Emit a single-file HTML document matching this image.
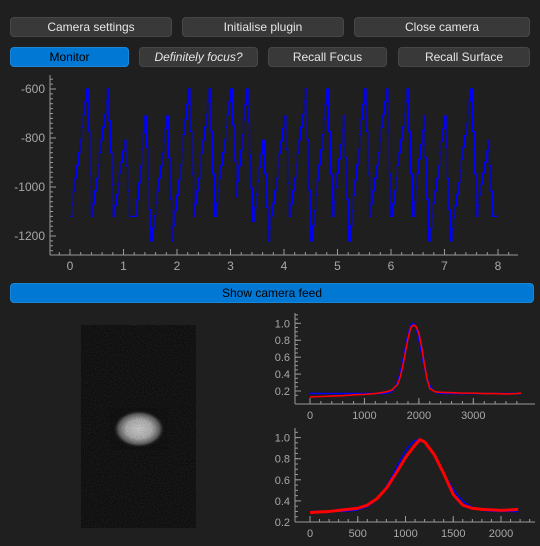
<!DOCTYPE html>
<html><head><meta charset="utf-8">
<style>
html,body{margin:0;padding:0;background:#1f1f1f;width:540px;height:546px;overflow:hidden;font-family:"Liberation Sans",sans-serif;}
.btn{position:absolute;box-sizing:border-box;background:#393939;border:1px solid #474747;border-radius:4px;color:#e6e6e6;font-size:12px;text-align:center;line-height:18px;height:20px;}
.blue{background:#0078d4;border-color:#1a86d8;color:#000;}
svg{position:absolute;left:0;top:0;}
</style></head><body>
<div class="btn" style="left:10px;top:17px;width:162px">Camera settings</div>
<div class="btn" style="left:182px;top:17px;width:162px">Initialise plugin</div>
<div class="btn" style="left:354px;top:17px;width:176px">Close camera</div>
<div class="btn blue" style="left:10px;top:47px;width:119px">Monitor</div>
<div class="btn" style="left:139px;top:47px;width:119px;font-style:italic">Definitely focus?</div>
<div class="btn" style="left:268px;top:47px;width:119px">Recall Focus</div>
<div class="btn" style="left:398px;top:47px;width:132px">Recall Surface</div>
<div class="btn blue" style="left:10px;top:283px;width:524px;height:20px">Show camera feed</div>

<svg width="540" height="546" id="svg">
<defs>
<filter id="noise" x="0" y="0" width="100%" height="100%">
<feTurbulence type="fractalNoise" baseFrequency="0.9" numOctaves="2" seed="3"/>
<feColorMatrix type="matrix" values="0 0 0 0 1  0 0 0 0 1  0 0 0 0 1  0 0 0 0.35 -0.1"/>
</filter>
<filter id="noise2" x="0" y="0" width="100%" height="100%">
<feTurbulence type="fractalNoise" baseFrequency="1.2" numOctaves="1" seed="7"/>
<feColorMatrix type="matrix" values="0 0 0 0 0  0 0 0 0 0  0 0 0 0 0  0 0 0 0.9 -0.3"/>
</filter>
<radialGradient id="blob">
<stop offset="0" stop-color="#d0d0d0"/>
<stop offset="0.5" stop-color="#b0b0b0"/>
<stop offset="0.8" stop-color="#5a5a5a"/>
<stop offset="1" stop-color="#0a0a0a" stop-opacity="0"/>
</radialGradient>
</defs>
<g>
<rect x="81" y="325" width="115" height="203" fill="#0b0b0b"/>
<ellipse cx="139" cy="429" rx="26" ry="19" fill="url(#blob)"/>
<rect x="81" y="325" width="115" height="203" filter="url(#noise)" opacity="0.45"/>
<rect x="110" y="408" width="58" height="42" filter="url(#noise2)" opacity="0.5"/>
</g>
</svg>
<script>
const mainX=[0,0.31,0.40,0.70,0.81,1.01,1.11,1.22,1.40,1.51,1.81,1.90,2.21,2.31,2.60,2.70,3.00,3.10,3.30,3.41,3.60,3.70,4.00,4.10,4.40,4.50,4.80,4.90,5.11,5.21,5.50,5.60,5.91,6.00,6.30,6.40,6.61,6.70,7.00,7.11,7.49,7.59,7.81,7.90,8.00];
const mainY=[-1120,-600,-1120,-600,-1120,-810,-1120,-1120,-710,-1220,-710,-1220,-600,-1120,-600,-1120,-600,-1040,-600,-1140,-810,-1220,-710,-1120,-600,-1220,-600,-1120,-710,-1220,-600,-1120,-600,-1120,-600,-1120,-710,-1220,-710,-1220,-600,-1120,-810,-1120,-1120];
const mainXTicks=[0,1,2,3,4,5,6,7,8];
const mainYTicks=[-600,-800,-1000,-1200];
const topX=[0,200,400,600,800,1000,1200,1400,1500,1600,1650,1700,1750,1800,1850,1900,1950,2000,2050,2100,2150,2200,2300,2400,2600,2800,3000,3200,3400,3600,3800,3880];
const topRed=[0.13,0.135,0.14,0.145,0.155,0.16,0.17,0.19,0.21,0.27,0.35,0.48,0.65,0.82,0.95,0.98,0.96,0.88,0.72,0.52,0.34,0.23,0.19,0.185,0.18,0.175,0.175,0.17,0.17,0.165,0.17,0.175];
const topFit=[0.17,0.83,1890,150];
const topXTicks=[0,1000,2000,3000];
const botX=[0,100,200,300,400,500,600,700,800,900,1000,1100,1150,1200,1300,1400,1500,1600,1700,1800,1900,2000,2100,2180];
const botRed=[0.29,0.295,0.30,0.31,0.32,0.33,0.36,0.42,0.52,0.66,0.81,0.93,0.98,0.96,0.84,0.66,0.46,0.36,0.33,0.32,0.315,0.31,0.315,0.32];
const botFit=[0.30,0.68,1140,235];
const botXTicks=[0,500,1000,1500,2000];
const smallYTicks=[0.2,0.4,0.6,0.8,1.0];

const NS="http://www.w3.org/2000/svg";
const svg=document.getElementById('svg');
function mk(tag,attrs,parent){const e=document.createElementNS(NS,tag);for(const k in attrs)e.setAttribute(k,attrs[k]);(parent||svg).appendChild(e);return e;}
const AX="#9a9a9a",TX="#a8a8a8";

function axes(g,o){
  mk('line',{x1:o.left,y1:o.bottom,x2:o.right,y2:o.bottom,stroke:AX},g);
  mk('line',{x1:o.left,y1:o.top,x2:o.left,y2:o.bottom,stroke:AX},g);
  for(let v=o.mxs;v<=o.mxe+1e-9;v+=o.mx){const p=o.sx(v);if(p<o.left||p>o.right)continue;mk('line',{x1:p,y1:o.bottom,x2:p,y2:o.bottom-3,stroke:AX},g);}
  for(let v=o.mys;v<=o.mye+1e-9;v+=o.my){const p=o.sy(v);if(p<o.top||p>o.bottom)continue;mk('line',{x1:o.left,y1:p,x2:o.left+3,y2:p,stroke:AX},g);}
  o.xt.forEach(v=>{const p=o.sx(v);mk('line',{x1:p,y1:o.bottom,x2:p,y2:o.bottom-6,stroke:AX},g);
    const t=mk('text',{x:p,y:o.bottom+15,fill:TX,'font-size':o.fs,'text-anchor':'middle'},g);t.textContent=o.fx(v);
    
    });
  o.yt.forEach(v=>{const p=o.sy(v);mk('line',{x1:o.left,y1:p,x2:o.left+6,y2:p,stroke:AX},g);
    const t=mk('text',{x:o.left-5,y:p+4,fill:TX,'font-size':o.fs,'text-anchor':'end'},g);t.textContent=o.fy(v);
    
    });
}
// main chart
const g1=mk('g',{});


const sx1=v=>70+v*53.5, sy1=v=>89+(-600-v)*0.245;
axes(g1,{left:50,right:518,top:75,bottom:255,sx:sx1,sy:sy1,xt:mainXTicks,yt:mainYTicks,mxs:-0.2,mxe:8.6,mx:0.2,mys:-1260,mye:-560,my:20,fs:12,fx:v=>v,fy:v=>v});
// staircase rendering between vertices
let d='M'+sx1(mainX[0])+' '+sy1(mainY[0]);
for(let i=1;i<mainX.length;i++){
  const x0=mainX[i-1],y0=mainY[i-1],x1=mainX[i],y1=mainY[i];
  const n=Math.max(1,Math.round((x1-x0)/0.03));
  for(let k=1;k<=n;k++){
    const xx=x0+(x1-x0)*k/n, yy=y0+(y1-y0)*k/n;
    d+=' H'+sx1(xx).toFixed(1)+' V'+sy1(yy).toFixed(1);
  }
}
const l1=mk('path',{d:d,fill:'none',stroke:'#0000ff','stroke-width':1.3},g1);



function gauss(p,x){return p[0]+p[1]*Math.exp(-Math.pow(x-p[2],2)/(2*p[3]*p[3]));}
function small(name,xs,red,fit,xt,top,bottom,y02,ky,kx,xmax){
  const g=mk('g',{});
  
  
  const sx=v=>310+v*kx, sy=v=>y02-(v-0.2)*ky;
  axes(g,{left:295,right:535,top:top,bottom:bottom,sx:sx,sy:sy,xt:xt,yt:smallYTicks,mxs:0,mxe:xmax,mx:xt[1]/5,mys:0.15,mye:1.1,my:0.05,fs:11,fx:v=>v,fy:v=>v.toFixed(1)});
  const fp=[];for(let x=xs[0];x<=xs[xs.length-1];x+=20)fp.push(sx(x)+','+sy(gauss(fit,x)));
  const b=mk('polyline',{points:fp.join(' '),fill:'none',stroke:'#0000ff','stroke-width':1.5},g);
  
  
  const r=mk('polyline',{points:xs.map((x,i)=>sx(x)+','+sy(red[i])).join(' '),fill:'none',stroke:'#ff0000','stroke-width':name==='y-profile-chart'?3:1.6},g);
  
  
}
small('x-profile-chart',topX,topRed,topFit,topXTicks,313,404,391,84.6,0.05444,3900);
small('y-profile-chart',botX,botRed,botFit,botXTicks,428,522,522,105.5,0.0955,2300);
</script>
</body></html>
